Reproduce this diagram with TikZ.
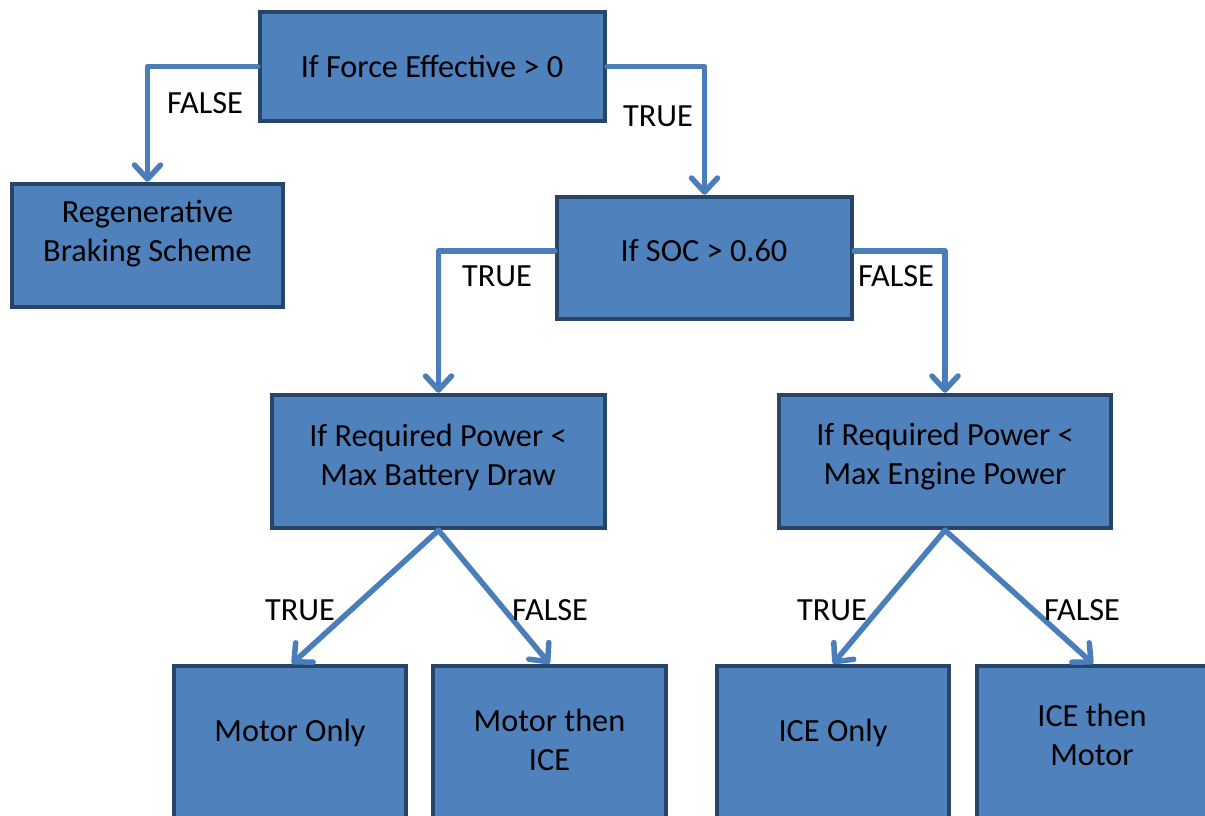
\documentclass[tikz,border=0pt]{standalone}
\usepackage{fontspec}
\setmainfont{Carlito}
\usetikzlibrary{arrows.meta}
\definecolor{boxfill}{HTML}{4F81BD}
\definecolor{boxline}{HTML}{274469}
\definecolor{arrowc}{HTML}{4A7EBB}
\begin{document}
\begin{tikzpicture}[x=1pt,y=-1pt,
  box/.style={draw=boxline, fill=boxfill, line width=4.5pt, inner sep=0pt},
  txt/.style={font=\fontsize{32.3}{39}\selectfont, inner sep=0pt, align=center},
  conn/.style={draw=arrowc, line width=5.5pt, line cap=round, line join=round,
    -{Straight Barb[length=14pt,width=26pt,round]}},
]
\fill[white] (0,0) rectangle (1205,816);
\clip (0,0) rectangle (1205,816);
\useasboundingbox (0,0) rectangle (1205,816);

% boxes
\node[box, minimum width=345pt, minimum height=109pt] (top) at (432.5,66.5) {};
\node[box, minimum width=271pt, minimum height=123pt] (regen) at (147.5,245.5) {};
\node[box, minimum width=295pt, minimum height=122pt] (soc) at (704.5,258) {};
\node[box, minimum width=333pt, minimum height=133pt] (bat) at (438.5,461.5) {};
\node[box, minimum width=332pt, minimum height=133pt] (eng) at (945,461.5) {};
\node[box, minimum width=232pt, minimum height=174pt] (mo) at (290,753) {};
\node[box, minimum width=233pt, minimum height=174pt] (mti) at (549.5,753) {};
\node[box, minimum width=232pt, minimum height=174pt] (io) at (833,753) {};
\node[box, minimum width=232pt, minimum height=174pt] (itm) at (1093,753) {};

% box texts
\node[txt] (ttop) at (432,66) {If Force Effective > 0};
\node[txt] (tregen) at (147.5,234) {Regenerative\\Braking Scheme};
\node[txt] (tsoc) at (704,251) {If SOC > 0.60};
\node[txt] (tbat) at (438,457) {If Required Power <\\Max Battery Draw};
\node[txt] (teng) at (945,457) {If Required Power <\\Max Engine Power};
\node[txt] (tmo) at (290,733) {Motor Only};
\node[txt] (tmti) at (549.5,740) {Motor then\\ICE};
\node[txt] (tio) at (833,733) {ICE Only};
\node[txt] (titm) at (1092,735) {ICE then\\Motor};

% connectors
\draw[conn] (top.west) -| (regen.north);
\draw[conn] (top.east) -| (soc.north);
\draw[conn] ([yshift=7pt]soc.west) -| (bat.north);
\draw[conn] ([yshift=7pt]soc.east) -| (eng.north);
\draw[conn] (bat.south) -- ([xshift=2pt]mo.north);
\draw[conn] (bat.south) -- (mti.north);
\draw[conn] (eng.south) -- (io.north);
\draw[conn] (eng.south) -- (itm.north);

% labels
\node[txt] (l1) at (205,103) {FALSE};
\node[txt] (l2) at (658,116) {TRUE};
\node[txt] (l3) at (497,276) {TRUE};
\node[txt] (l4) at (896,276) {FALSE};
\node[txt] (l5) at (300,610) {TRUE};
\node[txt] (l6) at (550,610) {FALSE};
\node[txt] (l7) at (832,610) {TRUE};
\node[txt] (l8) at (1082,610) {FALSE};
\end{tikzpicture}
\end{document}
